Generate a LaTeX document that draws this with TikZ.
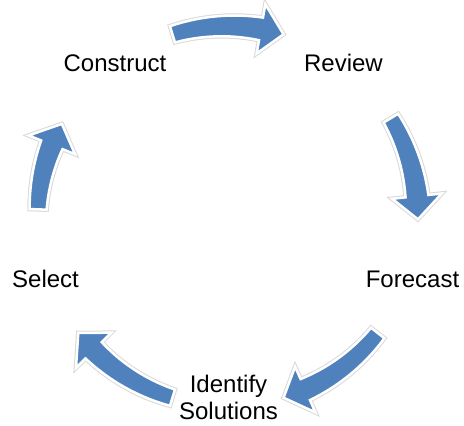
\documentclass[tikz,border=0pt]{standalone}
\usepackage{fontspec}
\setmainfont{Liberation Sans}

\definecolor{cycleblue}{RGB}{79,129,189}

\tikzset{
  cyclearrow/.style={fill=cycleblue, draw=white, line width=2.5pt,
    preaction={draw=black!15, line width=4.5pt}},
  steplabel/.style={font=\fontsize{24}{27}\selectfont, anchor=base, inner sep=0pt}
}

\begin{document}
\begin{tikzpicture}[x=1pt, y=1pt]
  \useasboundingbox (0,0) rectangle (464,426);
  \coordinate (c) at (228,210);

  % curved block arrows, clockwise round the cycle
  \begin{scope}[shift={(c)}]
    \foreach \st/\en in {107/73, 31/-1, -38/-73, -107/-142, 178/151} {
      \pgfmathsetmacro{\hd}{\en+7}
      \path[cyclearrow] (\st:198.5)
        -- plot[domain=\st:\hd, samples=15] (\x:{198.5+3*(\st-\x)/(\st-\hd)})
        -- (\hd:215) -- (\en:190) -- (\hd:165)
        -- plot[domain=\hd:\st, samples=15] (\x:{181.5-3*(\st-\x)/(\st-\hd)})
        -- cycle;
    }
  \end{scope}

  % step names
  \node[steplabel] (construct) at (115,354) {Construct};
  \node[steplabel] (review) at (343.5,354) {Review};
  \node[steplabel] (forecast) at (412.5,138) {Forecast};
  \node[steplabel] (select) at (45.5,138) {Select};
  \node[steplabel, align=center, anchor=north] (identify) at (228.5,51) {Identify\\Solutions};
\end{tikzpicture}
\end{document}
